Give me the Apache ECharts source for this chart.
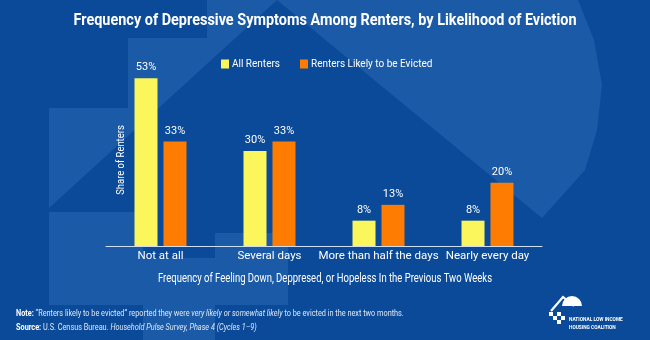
<!DOCTYPE html>
<html>
<head>
<meta charset="utf-8">
<script src="https://cdn.jsdelivr.net/npm/echarts@6/dist/echarts.min.js"></script>
<style>
html,body{margin:0;padding:0;background:#0a4a99;}
#chart{width:650px;height:340px;}
</style>
</head>
<body>
<div id="chart"></div>
<script>
const categories = ['Not at all', 'Several days', 'More than half the days', 'Nearly every day'];
const allRenters = [53, 30, 8, 8];
const likelyEvicted = [33, 33, 13, 20];
const seriesNames = ['All Renters', 'Renters Likely to be Evicted'];

const FONT = 'Roboto, "Liberation Sans", sans-serif';
const LIGHT = 'rgba(70,130,200,0.30)';

const chart = echarts.init(document.getElementById('chart'), null, {renderer: 'canvas'});

const bg = [
  {type:'polygon', shape:{points:[[207,0],[277,0],[49,208],[49,108],[128,108],[128,38],[207,38]]}, style:{fill:LIGHT}, z:0, silent:true},
  {type:'polygon', shape:{points:[[277,0],[542,218],[585,170],[597,130],[602,85],[594,40],[578,0]]}, style:{fill:LIGHT}, z:0, silent:true},
  {type:'rect', shape:{x:49,y:212,width:94,height:93}, style:{fill:LIGHT}, z:0, silent:true},
  {type:'rect', shape:{x:143,y:258,width:72,height:82}, style:{fill:LIGHT}, z:0, silent:true},
  {type:'rect', shape:{x:215,y:233,width:73,height:72}, style:{fill:LIGHT}, z:0, silent:true},
  // logo
  {type:'sector', shape:{cx:572,cy:306,r:10,startAngle:Math.PI,endAngle:2*Math.PI}, style:{fill:'#ffffff'}, z:1, silent:true},
  {type:'polyline', shape:{points:[[551,311],[563,297],[574,306]]}, style:{stroke:'#ffffff',lineWidth:2.2,fill:null}, z:1, silent:true},
  {type:'rect', shape:{x:549,y:312,width:4,height:4}, style:{fill:'#ffffff'}, z:1, silent:true},
  {type:'rect', shape:{x:553,y:316,width:4,height:4}, style:{fill:'#ffffff'}, z:1, silent:true},
  {type:'rect', shape:{x:557,y:312,width:4,height:4}, style:{fill:'#ffffff'}, z:1, silent:true},
  {type:'rect', shape:{x:561,y:316,width:4,height:4}, style:{fill:'#ffffff'}, z:1, silent:true},
  {type:'rect', shape:{x:557,y:320,width:4,height:4}, style:{fill:'#ffffff'}, z:1, silent:true},
  {type:'text', x:569, y:315, scaleX:0.8, style:{text:'NATIONAL LOW INCOME\nHOUSING COALITION', fill:'#ffffff', font:'bold 6px ' + FONT, lineHeight:8}, z:1, silent:true},
  // title
  {type:'text', x:325, y:21, scaleX:0.85, style:{text:'Frequency of Depressive Symptoms Among Renters, by Likelihood of Eviction', fill:'#ffffff', font:'bold 17px ' + FONT, align:'center', verticalAlign:'middle'}, z:3, silent:true},
  // x axis title
  {type:'text', x:325, y:279, scaleX:0.76, style:{text:'Frequency of Feeling Down, Deppresed, or Hopeless In the Previous Two Weeks', fill:'#ffffff', font:'12.5px ' + FONT, align:'center', verticalAlign:'middle'}, z:3, silent:true},
  // y axis title
  {type:'text', x:121, y:160, rotation:Math.PI/2, scaleX:0.82, style:{text:'Share of Renters', fill:'#ffffff', font:'11.5px ' + FONT, align:'center', verticalAlign:'middle'}, z:3, silent:true},
  // notes
  {type:'text', x:16, y:314, scaleX:0.86, style:{
    text:'{b|Note:} “Renters likely to be evicted” reported they were {i|very likely or somewhat likely} to be evicted in the next two months.',
    fill:'#dfe8f5', font:'8.5px ' + FONT, verticalAlign:'middle',
    rich:{b:{fontWeight:'bold', fontFamily:FONT, fontSize:8.5, fill:'#ffffff'}, i:{fontStyle:'italic', fontFamily:FONT, fontSize:8.5, fill:'#dfe8f5'}}
  }, z:3, silent:true},
  {type:'text', x:16, y:328, scaleX:0.86, style:{
    text:'{b|Source:} U.S. Census Bureau. {i|Household Pulse Survey, Phase 4 (Cycles 1–9)}',
    fill:'#dfe8f5', font:'8.5px ' + FONT, verticalAlign:'middle',
    rich:{b:{fontWeight:'bold', fontFamily:FONT, fontSize:8.5, fill:'#ffffff'}, i:{fontStyle:'italic', fontFamily:FONT, fontSize:8.5, fill:'#dfe8f5'}}
  }, z:3, silent:true}
];

const option = {
  backgroundColor: '#0a4a99',
  animation: false,
  legend: {
    data: seriesNames,
    left: 221, top: 59, padding: 0,
    itemWidth: 8, itemHeight: 9, itemGap: 20,
    icon: 'rect',
    textStyle: {color:'#ffffff', fontFamily:FONT, fontSize:10, padding:[0,0,0,-2]}
  },
  grid: {left:106, top:56, width:436, height:190, containLabel:false},
  xAxis: {
    type: 'category',
    data: categories,
    axisLine: {show:true, lineStyle:{color:'#cfdff3', width:1}},
    axisTick: {show:false},
    axisLabel: {color:'#ffffff', fontFamily:FONT, fontSize:11.5, margin:4, interval:0}
  },
  yAxis: {
    type: 'value', min: 0, max: 60,
    show: false,
    splitLine: {show:false}
  },
  series: [
    {
      name: seriesNames[0], type: 'bar', data: allRenters,
      barWidth: 23, barGap: '26%',
      itemStyle: {color:'#faf65c'},
      label: {show:true, position:'top', distance:5, formatter:'{c}%', color:'#ffffff', fontFamily:FONT, fontSize:11}
    },
    {
      name: seriesNames[1], type: 'bar', data: likelyEvicted,
      barWidth: 23,
      itemStyle: {color:'#fe7c02'},
      label: {show:true, position:'top', distance:5, formatter:'{c}%', color:'#ffffff', fontFamily:FONT, fontSize:11}
    }
  ],
  graphic: bg
};
chart.setOption(option);
</script>
</body>
</html>
